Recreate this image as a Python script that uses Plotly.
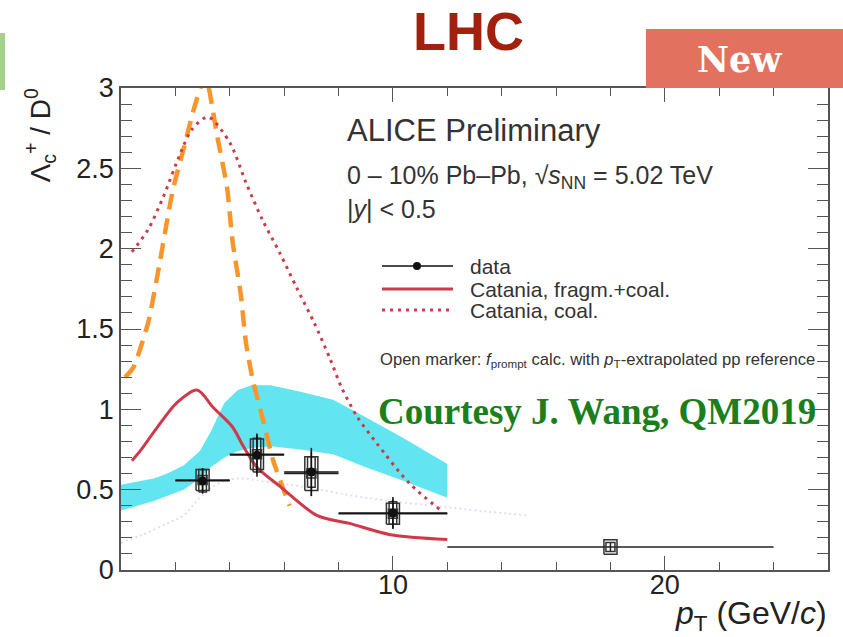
import plotly.graph_objects as go

# ---------------- data ----------------
# measured Lambda_c / D0 points (filled markers)
pt_x = [3, 5, 7, 10]
pt_bin_lo = [1, 1, 1, 2]
pt_bin_hi = [1, 1, 1, 2]
ratio = [0.555, 0.715, 0.61, 0.355]
stat = [0.08, 0.135, 0.15, 0.10]
syst = [0.07, 0.105, 0.095, 0.07]

# open markers (f_prompt with pT-extrapolated pp reference)
open_x = [3, 5, 7, 10, 18]
open_bin_lo = [1, 1, 1, 2, 6]
open_bin_hi = [1, 1, 1, 2, 6]
open_y = [0.56, 0.72, 0.60, 0.35, 0.143]
open_stat = [0.07, 0.12, 0.14, 0.09, 0.03]
open_syst = [0.065, 0.095, 0.105, 0.065, 0.045]

# model band (cyan)
band_x = [0, 0.6, 1.2, 1.7, 2.3, 2.9, 3.3, 3.8, 4.3, 4.8, 5.5, 6.6, 7.8, 9.0, 10.3, 12]
band_hi = [0.53, 0.55, 0.57, 0.60, 0.65, 0.74, 0.86, 1.04, 1.12, 1.15, 1.15, 1.11, 1.06, 0.95, 0.83, 0.66]
band_lo = [0.37, 0.40, 0.43, 0.46, 0.50, 0.57, 0.64, 0.70, 0.74, 0.76, 0.77, 0.75, 0.72, 0.64, 0.56, 0.45]

# orange dashed model
orange_x = [0.15, 0.45, 1.0, 1.4, 1.9, 2.3, 2.7, 3.1, 3.55, 3.9, 4.1, 4.4, 4.6, 4.85, 5.2, 5.6, 6.2]
orange_y = [1.20, 1.26, 1.54, 1.89, 2.36, 2.62, 2.88, 3.07, 2.69, 2.38, 2.05, 1.72, 1.41, 1.18, 0.95, 0.68, 0.40]

# Catania, coal. (dotted)
coal_x = [0.4, 1.0, 1.55, 2.2, 2.6, 3.2, 4.0, 4.6, 5.2, 5.85, 6.45, 7.1, 7.7, 8.1, 8.7, 9.4, 10.6, 11.85]
coal_y = [1.98, 2.12, 2.32, 2.60, 2.74, 2.82, 2.66, 2.41, 2.18, 1.97, 1.76, 1.54, 1.31, 1.14, 0.95, 0.79, 0.54, 0.36]

# Catania, fragm.+coal. (solid)
fc_x = [0.4, 0.7, 1.3, 2.05, 2.8, 3.4, 4.1, 4.5, 5.0, 5.85, 7.2, 8.4, 9.9, 12]
fc_y = [0.68, 0.74, 0.88, 1.04, 1.12, 1.01, 0.89, 0.77, 0.64, 0.52, 0.34, 0.29, 0.22, 0.19]

# faint lavender dotted model
lav_x = [0, 0.8, 1.7, 2.3, 2.9, 3.6, 4.3, 5.3, 6.6, 9, 12, 14.9]
lav_y = [0.17, 0.22, 0.29, 0.34, 0.45, 0.54, 0.57, 0.55, 0.52, 0.45, 0.39, 0.34]

y_ticks = [0, 0.5, 1, 1.5, 2, 2.5, 3]
y_tick_text = ["0", "0.5", "1", "1.5", "2", "2.5", "3"]
x_ticks = [0, 10, 20]
x_tick_text = ["", "10", "20"]

legend_labels = ["data", "Catania, fragm.+coal.", "Catania, coal."]

# ---------------- layout geometry ----------------
W, H = 843, 637
L, R, T, B = 121, 828, 88, 570


def px(xp):
    return (xp - L) / (R - L)


def py(yp):
    return (B - yp) / (B - T)


RED = "#cf3a4a"
ORANGE = "#f7962c"
FONT = "Liberation Sans"

fig = go.Figure()

# cyan band
fig.add_trace(go.Scatter(
    x=band_x + band_x[::-1], y=band_hi + band_lo[::-1],
    fill="toself", fillcolor="#62e5f0", line=dict(width=0),
    mode="lines", hoverinfo="skip", showlegend=False))

# lavender faint dotted
fig.add_trace(go.Scatter(x=lav_x, y=lav_y, mode="lines",
                         line=dict(color="#e6dcf4", width=2, dash="2px,3px", shape="spline"),
                         showlegend=False))

# orange dashed
fig.add_trace(go.Scatter(x=orange_x, y=orange_y, mode="lines",
                         line=dict(color=ORANGE, width=4.5, dash="16px,9px", shape="spline", smoothing=0.6),
                         showlegend=False))

# Catania coal (dotted)
fig.add_trace(go.Scatter(x=coal_x, y=coal_y, mode="lines",
                         line=dict(color=RED, width=3, dash="3px,5px", shape="spline", smoothing=0.8),
                         showlegend=False))

# Catania fragm.+coal (solid)
fig.add_trace(go.Scatter(x=fc_x, y=fc_y, mode="lines",
                         line=dict(color=RED, width=3, shape="spline", smoothing=0.8),
                         showlegend=False))


def boxes(xs, ys, errs, hw):
    bx, by = [], []
    for xv, yv, ev in zip(xs, ys, errs):
        bx += [xv - hw, xv + hw, xv + hw, xv - hw, xv - hw, None]
        by += [yv - ev, yv - ev, yv + ev, yv + ev, yv - ev, None]
    return bx, by


# systematic boxes
bx, by = boxes(open_x, open_y, open_syst, 0.24)
fig.add_trace(go.Scatter(x=bx, y=by, mode="lines", line=dict(color="#333333", width=1.5),
                         showlegend=False, hoverinfo="skip"))
bx, by = boxes(pt_x, ratio, syst, 0.14)
fig.add_trace(go.Scatter(x=bx, y=by, mode="lines", line=dict(color="#333333", width=1.5),
                         showlegend=False, hoverinfo="skip"))

# open markers with error bars
fig.add_trace(go.Scatter(
    x=open_x, y=open_y, mode="markers",
    marker=dict(symbol="square-open", size=9, color="#333333", line=dict(width=1.5)),
    error_x=dict(type="data", symmetric=False, array=open_bin_hi, arrayminus=open_bin_lo,
                 color="#222222", thickness=1.5, width=0),
    error_y=dict(type="data", array=open_stat, color="#222222", thickness=1.5, width=0),
    showlegend=False))

# filled markers with error bars
fig.add_trace(go.Scatter(
    x=pt_x, y=ratio, mode="markers",
    marker=dict(symbol="circle", size=9, color="#111111"),
    error_x=dict(type="data", symmetric=False, array=pt_bin_hi, arrayminus=pt_bin_lo,
                 color="#111111", thickness=1.5, width=0),
    error_y=dict(type="data", array=stat, color="#111111", thickness=1.5, width=0),
    showlegend=False))

axis_common = dict(showline=True, linecolor="#555555", linewidth=1.5, mirror="allticks",
                   ticks="inside", tickcolor="#555555", tickwidth=1.2, showgrid=False,
                   zeroline=False, tickfont=dict(family=FONT, size=27, color="#222222"))

fig.update_xaxes(range=[0, 26], tickmode="array", tickvals=x_ticks, ticktext=x_tick_text,
                 ticklen=14, ticklabelstandoff=-10,
                 minor=dict(ticks="inside", tickmode="linear", tick0=0, dtick=2, ticklen=8,
                            tickcolor="#555555", tickwidth=1.2, showgrid=False),
                 **axis_common)
fig.update_yaxes(range=[0, 3], tickmode="array", tickvals=y_ticks, ticktext=y_tick_text,
                 ticklen=20,
                 minor=dict(ticks="inside", tickmode="linear", tick0=0, dtick=0.1, ticklen=11,
                            tickcolor="#555555", tickwidth=1.2, showgrid=False),
                 **axis_common)

shapes = []
annotations = []


def note(text, xp, ypix, size, color="#333333", family=FONT, xanchor="left", yanchor="middle", **kw):
    annotations.append(dict(text=text, x=px(xp), y=py(ypix), xref="paper", yref="paper",
                            xanchor=xanchor, yanchor=yanchor, showarrow=False,
                            font=dict(family=family, size=size, color=color), **kw))


# green bar left, New box
shapes.append(dict(type="rect", xref="paper", yref="paper", x0=px(0), x1=px(5), y0=py(90), y1=py(33),
                   fillcolor="#a4d28c", line=dict(width=0), layer="above"))
shapes.append(dict(type="rect", xref="paper", yref="paper", x0=px(646), x1=px(843), y0=py(88), y1=py(29),
                   fillcolor="#e2725f", line=dict(width=0), layer="above"))

note("<b>New</b>", 739, 60, 35, color="white", family="DejaVu Serif", xanchor="center")
note("<b>LHC</b>", 468, 31, 54, color="#a3200f", xanchor="center")

note("ALICE Preliminary", 345, 130, 31)
note("0 \u2013 10% Pb\u2013Pb, \u221a<i>s</i><sub>NN</sub> = 5.02 TeV", 345, 177, 25)
note("|<i>y</i>| < 0.5", 345, 209, 25)

# legend
leg_y = [266, 289, 310]
shapes.append(dict(type="line", xref="paper", yref="paper", x0=px(382), x1=px(453), y0=py(leg_y[0]), y1=py(leg_y[0]),
                   line=dict(color="#111111", width=1.5)))
shapes.append(dict(type="circle", xref="paper", yref="paper", x0=px(413), x1=px(421), y0=py(leg_y[0] + 4), y1=py(leg_y[0] - 4),
                   fillcolor="#111111", line=dict(width=0)))
shapes.append(dict(type="line", xref="paper", yref="paper", x0=px(382), x1=px(453), y0=py(leg_y[1]), y1=py(leg_y[1]),
                   line=dict(color=RED, width=3)))
shapes.append(dict(type="line", xref="paper", yref="paper", x0=px(382), x1=px(453), y0=py(leg_y[2]), y1=py(leg_y[2]),
                   line=dict(color=RED, width=3, dash="3px,5px")))
for lab, yy in zip(legend_labels, leg_y):
    note(lab, 468, yy, 21)

note("Open marker: <i>f</i><sub>prompt</sub> calc. with <i>p</i><sub>T</sub>-extrapolated pp reference",
     378, 360, 16.6)

note("<b>Courtesy J. Wang, QM2019</b>", 376, 411, 37, color="#1b7f1b", family="Liberation Serif")

# axis titles
note("\u039b<sub>c</sub><sup>+</sup> / D<sup>0</sup>", 40, 86, 28, color="#222222",
     xanchor="center", yanchor="top", textangle=-90)
note("<i>p</i><sub>T</sub> (GeV/<i>c</i>)", 829, 615, 32, color="#222222", xanchor="right")

fig.update_layout(width=W, height=H, margin=dict(l=L, r=W - R, t=T, b=H - B),
                  paper_bgcolor="white", plot_bgcolor="white", showlegend=False,
                  shapes=shapes, annotations=annotations)

fig.write_html("out.html", config={"displayModeBar": False},
               post_script="document.body.style.margin='0';document.body.style.padding='0';")
